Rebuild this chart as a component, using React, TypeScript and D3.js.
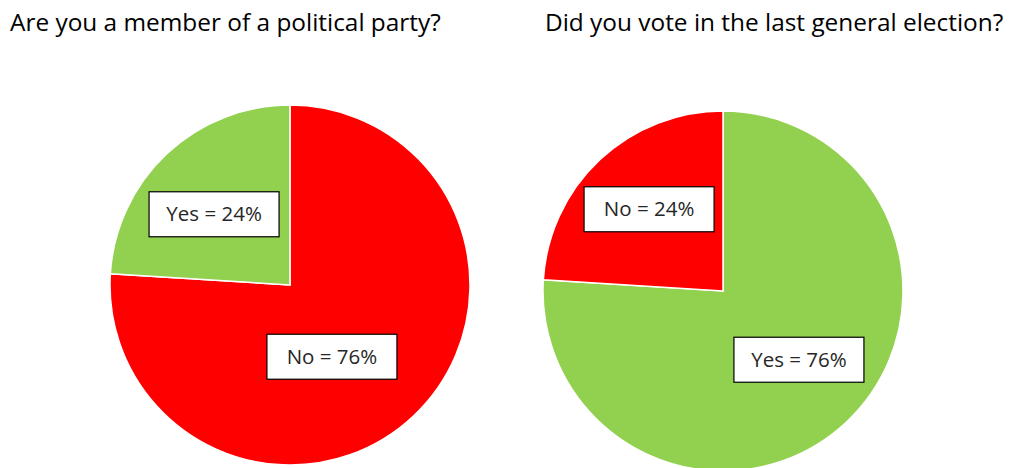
import React from "react";
import * as d3 from "d3";

const leftTitle = "Are you a member of a political party?";
const leftCategories = ["No", "Yes"];
const leftValues = [76, 24];

const rightTitle = "Did you vote in the last general election?";
const rightCategories = ["Yes", "No"];
const rightValues = [76, 24];

const colorFor: Record<string, string> = { Yes: "#92D050", No: "#FF0000" };

const W = 1014;
const H = 468;
const R = 180;
const FONT = "'Open Sans', sans-serif";

type PieSpec = {
  title: string;
  titleX: number;
  cats: string[];
  vals: number[];
  cx: number;
  cy: number;
  nudges: [number, number][];
};

const charts: PieSpec[] = [
  { title: leftTitle, titleX: 10, cats: leftCategories, vals: leftValues, cx: 290, cy: 285, nudges: [[-32, -7], [-2, 8]] },
  { title: rightTitle, titleX: 545, cats: rightCategories, vals: rightValues, cx: 723, cy: 291, nudges: [[2, -10], [0, -3]] },
];

function Pie({ spec }: { spec: PieSpec }) {
  const data = spec.cats.map((c, i) => ({ cat: c, val: spec.vals[i] }));
  const pie = d3.pie<{ cat: string; val: number }>().sort(null).value((d) => d.val);
  const arcs = pie(data);
  const arc = d3.arc<d3.PieArcDatum<{ cat: string; val: number }>>().innerRadius(0).outerRadius(R);
  const labelArc = d3.arc<d3.PieArcDatum<{ cat: string; val: number }>>().innerRadius(R * 0.6).outerRadius(R * 0.6);
  const total = d3.sum(spec.vals);
  const boxW = 130;
  const boxH = 45;
  return (
    <g>
      <text x={spec.titleX} y={31} fontFamily={FONT} fontSize={24.4} fill="#000">
        {spec.title}
      </text>
      <g transform={`translate(${spec.cx},${spec.cy})`}>
        {arcs.map((a, i) => (
          <path key={i} d={arc(a) || ""} fill={colorFor[a.data.cat]} stroke="#fff" strokeWidth={1.5} />
        ))}
        {arcs.map((a, i) => {
          const [lx, ly] = labelArc.centroid(a);
          const x = lx + spec.nudges[i][0];
          const y = ly + spec.nudges[i][1];
          const pct = Math.round((a.data.val / total) * 100);
          return (
            <g key={"l" + i} transform={`translate(${x},${y})`}>
              <rect x={-boxW / 2} y={-boxH / 2} width={boxW} height={boxH} fill="#fff" stroke="#000" strokeWidth={1.2} />
              <text x={0} y={7} textAnchor="middle" fontFamily={FONT} fontSize={20.5} fill="#262626">
                {`${a.data.cat} = ${pct}%`}
              </text>
            </g>
          );
        })}
      </g>
    </g>
  );
}

export default function App() {
  return (
    <svg
      width={W}
      height={H}
      viewBox={`0 0 ${W} ${H}`}
      style={{ position: "absolute", left: 0, top: 0, background: "#fff" }}
    >
      <rect width={W} height={H} fill="#fff" />
      {charts.map((c, i) => (
        <Pie key={i} spec={c} />
      ))}
    </svg>
  );
}
